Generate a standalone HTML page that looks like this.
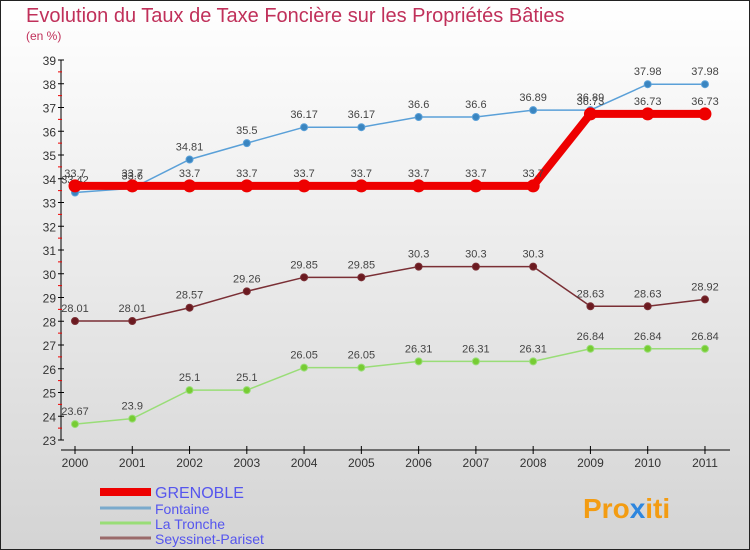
<!DOCTYPE html>
<html><head><meta charset="utf-8"><style>
body{margin:0}
svg{display:block;font-family:"Liberation Sans",sans-serif}
</style></head><body>
<svg width="750" height="550" xmlns="http://www.w3.org/2000/svg">
<defs><linearGradient id="bg" x1="0" y1="0" x2="0" y2="1"><stop offset="0" stop-color="#ffffff"/><stop offset="1" stop-color="#d4d4d4"/></linearGradient></defs>
<rect x="0.5" y="0.5" width="749" height="549" fill="url(#bg)" stroke="#222"/>
<text x="26" y="22" font-size="20" fill="#c0305a">Evolution du Taux de Taxe Foncière sur les Propriétés Bâties</text>
<text x="26" y="40" font-size="12" fill="#c0305a">(en %)</text>
<g id="axes"></g><g id="series"></g><g id="legend"></g>
<text x="583" y="518" font-size="28" font-weight="bold" fill="#f39c12">Pro<tspan fill="#2e86de">x</tspan><tspan fill="#f39c12">iti</tspan></text>
</svg>
<script>
const years=[2000,2001,2002,2003,2004,2005,2006,2007,2008,2009,2010,2011];
const grenoble=[33.7,33.7,33.7,33.7,33.7,33.7,33.7,33.7,33.7,36.73,36.73,36.73];
const fontaine=[33.42,33.6,34.81,35.5,36.17,36.17,36.6,36.6,36.89,36.89,37.98,37.98];
const tronche=[23.67,23.9,25.1,25.1,26.05,26.05,26.31,26.31,26.31,26.84,26.84,26.84];
const seyssinet=[28.01,28.01,28.57,29.26,29.85,29.85,30.3,30.3,30.3,28.63,28.63,28.92];
const yTicks=[23,24,25,26,27,28,29,30,31,32,33,34,35,36,37,38,39];
const NS="http://www.w3.org/2000/svg";
const X=i=>75+i*57.27, Y=v=>440-(v-23)*23.75;
function mk(t,a,p){const e=document.createElementNS(NS,t);for(const k in a)e.setAttribute(k,a[k]);p.appendChild(e);return e;}
const ax=document.getElementById('axes');
let l=mk('line',{x1:61,y1:Y(39),x2:61,y2:Y(23),stroke:'#000'},ax);


l=mk('line',{x1:61,y1:450,x2:730,y2:450,stroke:'#000'},ax);


yTicks.forEach(v=>{
  mk('line',{x1:58,y1:Y(v),x2:64,y2:Y(v),stroke:'#000'},ax);
  if(v<39)mk('line',{x1:58,y1:Y(v+0.5),x2:62,y2:Y(v+0.5),stroke:'#e00'},ax);
  const t=mk('text',{x:56,y:Y(v)+5,'font-size':12,fill:'#333','text-anchor':'end'},ax);t.textContent=v;
  
  
});
years.forEach((y,i)=>{
  mk('line',{x1:X(i),y1:446,x2:X(i),y2:454,stroke:'#000'},ax);
  const t=mk('text',{x:X(i),y:467,'font-size':12,fill:'#333','text-anchor':'middle'},ax);t.textContent=y;
  
  
});
const sg=document.getElementById('series');
function series(name,data,color,w,r,fill){
  const g=mk('g',{},sg);
  
  
  mk('polyline',{points:data.map((v,i)=>X(i)+','+Y(v)).join(' '),fill:'none',stroke:color,'stroke-width':w},g);
  data.forEach((v,i)=>{
    const c=mk('circle',{cx:X(i),cy:Y(v),r:r,fill:fill,stroke:color,'stroke-width':1},g);
    
    
    const t=mk('text',{x:X(i),y:Y(v)-9,'font-size':11,fill:'#444','text-anchor':'middle'},g);t.textContent=v;
    
    
  });
}
series('seyssinet',seyssinet,'#7a2f35',1.5,3.5,'#6b1a20');
series('tronche',tronche,'#99dd77',1.5,3.5,'#77cc33');
series('fontaine',fontaine,'#5aa0d8',1.5,3.5,'#3a85c0');
series('grenoble',grenoble,'#ee0000',8,6,'#ee0000');
const lg=document.getElementById('legend');
const items=[['GRENOBLE','#ee0000',8,16],['Fontaine','#7aaacc',3,14],['La Tronche','#99dd77',3,14],['Seyssinet-Pariset','#9a6a6a',3,14]];
const ly=[492,508,523,538];
items.forEach((it,i)=>{
  const g=mk('g',{},lg);
  
  
  mk('line',{x1:100,y1:ly[i],x2:151,y2:ly[i],stroke:it[1],'stroke-width':it[2]},g);
  const t=mk('text',{x:155,y:ly[i]+6,'font-size':it[3],fill:'#5555ee'},g);t.textContent=it[0];
});
</script>
</body></html>
